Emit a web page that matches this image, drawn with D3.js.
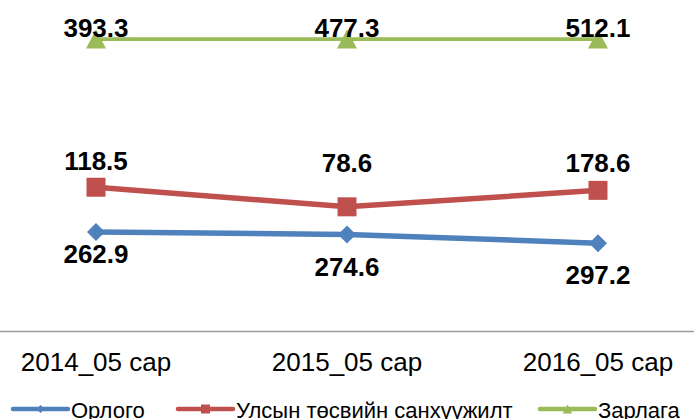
<!DOCTYPE html>
<html>
<head>
<meta charset="utf-8">
<script src="https://cdn.jsdelivr.net/npm/d3@7"></script>
<style>
  body { margin: 0; background: #fff; }
  svg { display: block; font-family: "Liberation Sans", Arial, sans-serif; }
</style>
</head>
<body>
<svg width="694" height="419"></svg>
<script>
// Data
const categories = ["2014_05 сар", "2015_05 сар", "2016_05 сар"];
const seriesNames = ["Орлого", "Улсын төсвийн санхүүжилт", "Зарлага"];
const orlogo = [262.9, 274.6, 297.2];
const sanhuujilt = [118.5, 78.6, 178.6];
const zarlaga = [393.3, 477.3, 512.1];

// Styling
const colors = ["#4F81BD", "#C0504D", "#9BBB59"];
const markers = ["diamond", "square", "triangle"];
const lineWidths = [5.5, 5.5, 3.75];
// label offsets (px from the marker), hand placed like in the source
const labelDy = [[31, 42, 41], [-17, -34.5, -18], [-2, -2, -2]];

let svg = d3.select("svg"),
    width = +svg.attr("width"),
    height = +svg.attr("height");

// rows for the 100% stacked line chart
let rows = categories.map(function (c, i) {
    let r = { cat: c };
    r[seriesNames[0]] = orlogo[i];
    r[seriesNames[1]] = sanhuujilt[i];
    r[seriesNames[2]] = zarlaga[i];
    return r;
});

let stack = d3.stack()
    .keys(seriesNames)
    .offset(d3.stackOffsetExpand);
let layers = stack(rows);

// Scales
let x = d3.scaleBand()
    .domain(categories)
    .range([-29.5, 723.5]);

let y = d3.scaleLinear()
    .domain([0, 1])
    .range([331, 39]);

let cx = function (d) { return x(d.data.cat) + x.bandwidth() / 2; };

// Axis
let axis = svg.append("g")
    .attr("transform", "translate(0," + y(0) + ")")
    .call(d3.axisBottom(x).tickSize(0).tickPadding(22));
axis.select(".domain")
    .attr("stroke", "#9a9a9a")
    .attr("stroke-width", 1.5);
axis.selectAll("text")
    .attr("fill", "#000")
    .style("font-size", "26px")
    .style("font-family", "'Liberation Sans', Arial, sans-serif");

// marker shapes
function markerPath(type, s) {
    let h = s / 2;
    if (type === "diamond") return "M0," + (-h) + "L" + h + ",0L0," + h + "L" + (-h) + ",0Z";
    if (type === "square") return "M" + (-h) + "," + (-h) + "h" + s + "v" + s + "h" + (-s) + "Z";
    return "M0," + (-h) + "L" + (h * 1.05) + "," + h + "L" + (-h * 1.05) + "," + h + "Z";
}
const markerSize = [18, 19, 19];

let line = d3.line()
    .x(cx)
    .y(function (d) { return y(d[1]); });

let g = svg.selectAll(".series")
    .data(layers)
    .enter().append("g")
    .attr("class", "series");

g.append("path")
    .attr("d", line)
    .attr("fill", "none")
    .attr("stroke", function (d, i) { return colors[i]; })
    .attr("stroke-width", function (d, i) { return lineWidths[i]; });

g.each(function (layer, i) {
    let sel = d3.select(this);
    sel.selectAll(".mark")
        .data(layer)
        .enter().append("path")
        .attr("class", "mark")
        .attr("transform", function (d) { return "translate(" + cx(d) + "," + y(d[1]) + ")"; })
        .attr("d", markerPath(markers[i], markerSize[i]))
        .attr("fill", colors[i]);

    sel.selectAll(".lbl")
        .data(layer)
        .enter().append("text")
        .attr("class", "lbl")
        .attr("x", cx)
        .attr("y", function (d, j) { return y(d[1]) + labelDy[i][j]; })
        .attr("text-anchor", "middle")
        .style("font-size", "26px")
        .style("font-weight", "bold")
        .text(function (d) { return d3.format(".1f")(d.data[layer.key]); });
});

// Legend
const legendX = [13, 178, 540];
let legend = svg.selectAll(".legend")
    .data(seriesNames)
    .enter().append("g")
    .attr("class", "legend")
    .attr("transform", function (d, i) { return "translate(" + legendX[i] + ",409)"; });

legend.append("line")
    .attr("x1", 0).attr("x2", 55)
    .attr("stroke", function (d, i) { return colors[i]; })
    .attr("stroke-width", 4.5)
    .attr("stroke-linecap", "round");

legend.append("path")
    .attr("transform", "translate(27.5,0)")
    .attr("d", function (d, i) { return markerPath(markers[i], i === 0 ? 8 : 9); })
    .attr("fill", function (d, i) { return colors[i]; });

legend.append("text")
    .attr("x", 58)
    .attr("y", 9)
    .style("font-size", "22px")
    .text(function (d) { return d; });
</script>
</body>
</html>
